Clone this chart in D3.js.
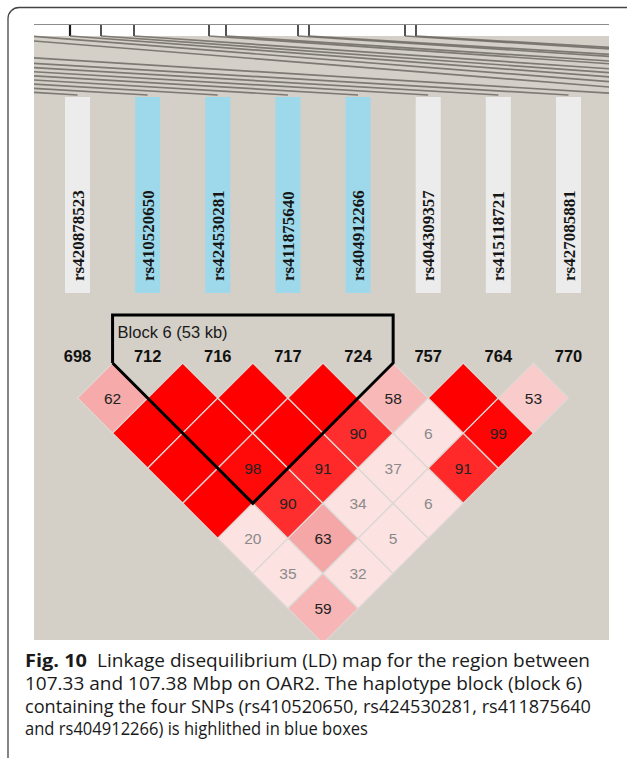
<!DOCTYPE html>
<html>
<head>
<meta charset="utf-8">
<script src="https://cdn.jsdelivr.net/npm/d3@7"></script>
<style>
  body { margin: 0; background: #fff; }
  svg { display: block; }
</style>
</head>
<body>
<svg id="chart" width="627" height="758"></svg>
<script>
// ---- data ----
const markers = ["698", "712", "716", "717", "724", "757", "764", "770"];
const snpNames = ["rs420878523", "rs410520650", "rs424530281", "rs411875640",
                  "rs404912266", "rs404309357", "rs415118721", "rs427085881"];
const blockSnps = ["rs410520650", "rs424530281", "rs411875640", "rs404912266"];
const blockLabel = "Block 6 (53 kb)";
const blockFirst = 1, blockLast = 4;   // marker indices spanned by the block

// D' x 100 for each marker pair: row i lists partners i+1 ... 7 (100 = complete LD, unlabeled)
const dPrime = [
  [62, 100, 100, 100, 20, 35, 59],
  [100, 100, 98, 90, 63, 32],
  [100, 100, 91, 34, 5],
  [100, 90, 37, 6],
  [58, 6, 91],
  [100, 99],
  [53]
];

// physical map strip: column slot of each neighbouring marker and its map position (kb)
const linkSlot = [0, 1, 2, 3, 4, 5, 6, 7, 8, 9, 10, 11, 12, 13, 14, 15, 16, 17, 18, 19];
const linkKb = [38.8, 73.9, 109.0, 144.1, 179.2, 214.3, 249.4, 284.5, 338.1, 485.8,
                514.0, 535.0, 550.5, 567.0, 604.5, 613.0, 649.0, 654.5, 702.5, 708.0];

const captionBold = "Fig. 10";
const captionLines = [
  "Linkage disequilibrium (LD) map for the region between",
  "107.33 and 107.38 Mbp on OAR2. The haplotype block (block 6)",
  "containing the four SNPs (rs410520650, rs424530281, rs411875640",
  "and rs404912266) is highlithed in blue boxes"
];

// ---- layout ----
const svg = d3.select("#chart");
const plot = { x0: 34, y0: 24, x1: 609, y1: 640 };

const colX = d3.scaleLinear().domain([0, markers.length - 1]).range([77.5, 568.5]);
const mapX = d3.scaleLinear().domain([0, 800]).range([-1000, 600]);
const half = (colX(1) - colX(0)) / 2;          // half diagonal of an LD cell
const rowTop = 363;                             // top vertex of the first LD row
const blockTopY = 315;

const ldColor = d3.scaleLinear()
  .domain([0, 40, 50, 63, 90, 100])
  .range(["#fde2e2", "#fde2e2", "#fcd6d6", "#f5a6a6", "#ff2e2e", "#ff0000"]);

// outer figure frame
svg.append("path")
  .attr("d", "M627,7.5 H19 A11,11 0 0 0 8,18.5 V758")
  .attr("fill", "none").attr("stroke", "#444").attr("stroke-width", 1.3);

svg.append("defs").append("clipPath").attr("id", "plotClip")
  .append("rect")
  .attr("x", plot.x0).attr("y", plot.y0)
  .attr("width", plot.x1 - plot.x0).attr("height", plot.y1 - plot.y0);

const g = svg.append("g").attr("clip-path", "url(#plotClip)");

// panel background
g.append("rect")
  .attr("x", plot.x0).attr("y", plot.y0)
  .attr("width", plot.x1 - plot.x0).attr("height", plot.y1 - plot.y0)
  .attr("fill", "#d4d0c8");

// white map strip with top rule
const stripBottom = 36;
g.append("rect")
  .attr("x", plot.x0).attr("y", plot.y0)
  .attr("width", plot.x1 - plot.x0).attr("height", stripBottom - plot.y0)
  .attr("fill", "#ffffff");
g.append("line")
  .attr("x1", plot.x0).attr("x2", plot.x1)
  .attr("y1", plot.y0 + 0.5).attr("y2", plot.y0 + 0.5)
  .attr("stroke", "#8c8c8c").attr("stroke-width", 1.2);

// marker ticks on the map strip
g.selectAll("line.tick").data(linkKb).join("line")
  .attr("class", "tick")
  .attr("x1", d => mapX(d)).attr("x2", d => mapX(d))
  .attr("y1", plot.y0 + 1).attr("y2", stripBottom)
  .attr("stroke", "#1a1a1a").attr("stroke-width", (d, i) => i === 11 ? 2.2 : 1.5);

// connectors from map position to marker column
const barTop = 97, barBottom = 293;
g.selectAll("line.link").data(linkKb).join("line")
  .attr("class", "link")
  .attr("x1", d => mapX(d)).attr("y1", stripBottom)
  .attr("x2", (d, i) => colX(linkSlot[i])).attr("y2", barTop - 2)
  .attr("stroke", "#6f6b65").attr("stroke-width", 1.7).attr("opacity", 0.85);

// SNP name bars
const bars = g.selectAll("g.snp").data(snpNames).join("g").attr("class", "snp");
bars.append("rect")
  .attr("x", (d, i) => colX(i) - 12.5).attr("y", barTop)
  .attr("width", 25).attr("height", barBottom - barTop)
  .attr("fill", d => blockSnps.includes(d) ? "#9dd9ea" : "#ececec");
bars.append("text")
  .attr("transform", (d, i) => `translate(${colX(i) + 6},${barBottom - 12}) rotate(-90)`)
  .attr("font-family", "'Liberation Serif', 'Times New Roman', serif")
  .attr("font-weight", "bold").attr("font-size", 17)
  .attr("fill", "#161616")
  .text(d => d);

// marker number labels
g.selectAll("text.marker").data(markers).join("text")
  .attr("class", "marker")
  .attr("x", (d, i) => colX(i)).attr("y", rowTop - 1)
  .attr("text-anchor", "middle")
  .attr("font-family", "'Liberation Sans', Arial, sans-serif")
  .attr("font-weight", "bold").attr("font-size", 16.5)
  .attr("fill", "#111")
  .text(d => d);

// LD cells
const cells = [];
dPrime.forEach((row, i) => row.forEach((v, k) => cells.push({ i, j: i + 1 + k, v })));
const cx = c => (colX(c.i) + colX(c.j)) / 2;
const cy = c => rowTop + half * (c.j - c.i);

const cellG = g.selectAll("g.cell").data(cells).join("g").attr("class", "cell");
cellG.append("path")
  .attr("d", c => {
    const x = cx(c), y = cy(c);
    return `M${x},${y - half}L${x + half},${y}L${x},${y + half}L${x - half},${y}Z`;
  })
  .attr("fill", c => ldColor(c.v))
  .attr("stroke", "#dcd8d3").attr("stroke-width", 1.3);
cellG.filter(c => c.v < 100).append("text")
  .attr("x", cx).attr("y", c => cy(c) + 5.5)
  .attr("text-anchor", "middle")
  .attr("font-family", "'Liberation Sans', Arial, sans-serif")
  .attr("font-size", 15.5)
  .attr("fill", c => c.v < 40 ? "#8a8a8a" : "#222")
  .text(c => c.v);

// haplotype block outline
const bxL = (colX(blockFirst - 1) + colX(blockFirst)) / 2;
const bxR = (colX(blockLast) + colX(blockLast + 1)) / 2;
const apex = [(colX(blockFirst) + colX(blockLast)) / 2,
              rowTop + half * (blockLast - blockFirst + 1)];
g.append("path")
  .attr("d", d3.line()([[bxL, rowTop], [bxL, blockTopY], [bxR, blockTopY], [bxR, rowTop], apex, [bxL, rowTop]]))
  .attr("fill", "none").attr("stroke", "#000").attr("stroke-width", 3)
  .attr("stroke-linejoin", "miter");
g.append("text")
  .attr("x", bxL + 5).attr("y", blockTopY + 23)
  .attr("font-family", "'Liberation Sans', Arial, sans-serif")
  .attr("font-size", 16.5).attr("fill", "#1a1a1a")
  .text(blockLabel);

// caption: each line is stretched to its set width
const cap = svg.append("g").attr("font-family", "'Open Sans', 'Noto Sans', sans-serif").attr("fill", "#1a1a1a");
const capSize = 18.2, capX = 25, capY0 = 667, capStep = 22.8;
const capText = [
  { x: capX, w: 62, bold: true, s: captionBold },
  { x: 97, w: 493, s: captionLines[0] },
  { x: capX, w: 557, s: captionLines[1], row: 1 },
  { x: capX, w: 566, s: captionLines[2], row: 2 },
  { x: capX, w: 343, s: captionLines[3], row: 3 }
];
cap.selectAll("text").data(capText).join("text")
  .attr("x", d => d.x)
  .attr("y", d => capY0 + capStep * (d.row || 0))
  .attr("font-size", capSize)
  .attr("font-weight", d => d.bold ? "bold" : null)
  .attr("textLength", d => d.w)
  .attr("lengthAdjust", "spacingAndGlyphs")
  .text(d => d.s);
</script>
</body>
</html>
